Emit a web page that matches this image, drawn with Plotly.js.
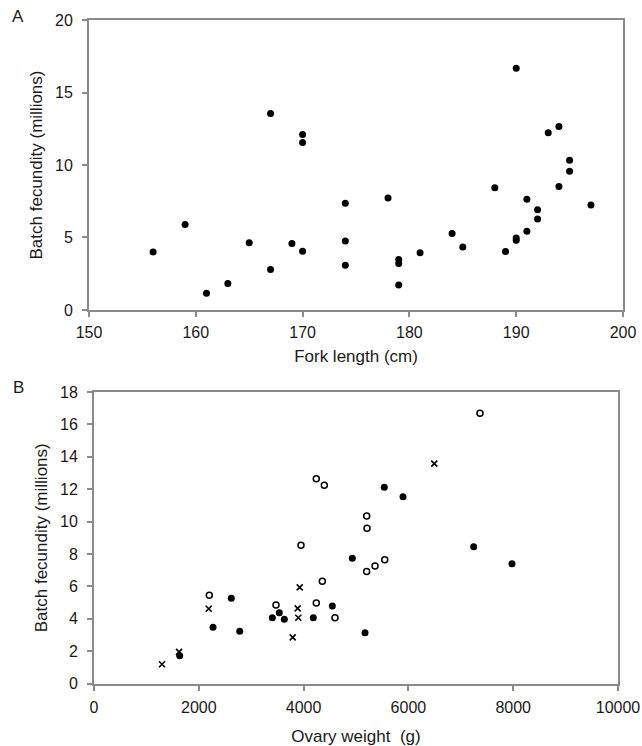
<!DOCTYPE html>
<html>
<head>
<meta charset="utf-8">
<script src="https://cdn.plot.ly/plotly-3.0.1.min.js"></script>
<style>html,body{margin:0;padding:0;background:#fff;}#chart{width:642px;height:746px;}</style>
</head>
<body>
<div id="chart"></div>
<script>
// Panel A: fork length (cm) vs batch fecundity (millions)
const forkLength = [156,159,161,163,165,167,167,169,170,170,170,174,174,174,178,179,179,179,181,184,185,188,189,190,190,190,191,191,192,192,193,194,194,195,195,197];
const fecundityA = [4.0,5.9,1.15,1.83,4.63,13.56,2.8,4.58,12.1,11.55,4.05,7.37,4.76,3.09,7.72,3.48,3.21,1.72,3.94,5.27,4.35,8.43,4.03,16.68,4.97,4.81,7.63,5.43,6.92,6.28,12.23,12.65,8.52,10.33,9.57,7.24];

// Panel B: ovary weight (g) vs batch fecundity (millions), three groups
const ovaryFilled = [1635,2271,2620,2781,3403,3536,3632,4185,4548,4929,5172,5540,5897,7246,7977];
const fecFilled   = [1.72,3.47,5.26,3.22,4.06,4.37,3.97,4.06,4.79,7.73,3.14,12.12,11.54,8.45,7.40];
const ovaryOpen = [2200,3473,3950,4242,4395,4357,4242,4599,5204,5210,5204,5363,5548,7366];
const fecOpen   = [5.45,4.85,8.54,12.65,12.24,6.31,4.97,4.06,10.35,9.59,6.91,7.26,7.65,16.69];
const ovaryCross = [1298,1622,2189,3926,3887,3899,3792,6494];
const fecCross   = [1.19,1.95,4.62,5.94,4.64,4.06,2.85,13.58];

const xTicksA = [150,160,170,180,190,200];
const yTicksA = [0,5,10,15,20];
const xTicksB = [0,2000,4000,6000,8000,10000];
const yTicksB = [0,2,4,6,8,10,12,14,16,18];

const axisColor = '#8a8a8a';
const txtColor = '#1a1a1a';
const fontFam = 'Liberation Sans, Arial, sans-serif';

const traces = [
  {x: forkLength, y: fecundityA, type:'scatter', mode:'markers', xaxis:'x', yaxis:'y', name:'A',
   marker:{symbol:'circle', size:7, color:'#000'}},
  {x: ovaryFilled, y: fecFilled, type:'scatter', mode:'markers', xaxis:'x2', yaxis:'y2', name:'Filled',
   marker:{symbol:'circle', size:7, color:'#000'}},
  {x: ovaryOpen, y: fecOpen, type:'scatter', mode:'markers', xaxis:'x2', yaxis:'y2', name:'Open',
   marker:{symbol:'circle-open', size:6, color:'#000', line:{width:1.5, color:'#000'}}},
  {x: ovaryCross, y: fecCross, type:'scatter', mode:'markers', xaxis:'x2', yaxis:'y2', name:'Cross',
   marker:{symbol:'x-thin-open', size:6, color:'#000', line:{width:1.6, color:'#000'}}}
];

function ax(extra){
  return Object.assign({
    showline:true, linecolor:axisColor, linewidth:2, mirror:true,
    showgrid:false, zeroline:false,
    ticks:'outside', ticklen:5, tickwidth:2, tickcolor:axisColor,
    tickfont:{size:16, color:txtColor, family:fontFam},
    fixedrange:true
  }, extra);
}

const layout = {
  width:642, height:746,
  margin:{l:80, r:10, t:10, b:50},
  paper_bgcolor:'#fff', plot_bgcolor:'#fff',
  showlegend:false,
  font:{family:fontFam, color:txtColor},
  xaxis: ax({domain:[0.0163,0.9837], anchor:'y', range:[150,200], tickvals:xTicksA, ticktext:xTicksA.map(String),
    ticklabelstandoff:2,
    title:{text:'Fork length (cm)', font:{size:17, color:txtColor}, standoff:10}}),
  yaxis: ax({domain:[0.5627,0.9854], anchor:'x', range:[0,20], tickvals:yTicksA, ticktext:yTicksA.map(String),
    ticklabelstandoff:6,
    title:{text:'Batch fecundity (millions)', font:{size:17, color:txtColor}, standoff:8}}),
  xaxis2: ax({domain:[0.0254,0.9746], anchor:'y2', range:[0,10000], tickvals:xTicksB, ticktext:xTicksB.map(String),
    ticklabelstandoff:3,
    title:{text:'Ovary weight\u00a0 (g)', font:{size:17, color:txtColor}, standoff:16}}),
  yaxis2: ax({domain:[0.0182,0.4431], anchor:'x2', range:[0,18], tickvals:yTicksB, ticktext:yTicksB.map(String),
    ticklabelstandoff:6,
    title:{text:'Batch fecundity (millions)', font:{size:17, color:txtColor}, standoff:8}}),
  annotations:[
    {text:'A', xref:'paper', yref:'paper', x:-0.1123, y:0.9900, showarrow:false, xanchor:'center', yanchor:'middle', font:{size:17, color:txtColor}},
    {text:'B', xref:'paper', yref:'paper', x:-0.1123, y:0.4504, showarrow:false, xanchor:'center', yanchor:'middle', font:{size:17, color:txtColor}}
  ]
};

Plotly.newPlot('chart', traces, layout, {displayModeBar:false, staticPlot:true});
</script>
</body>
</html>
